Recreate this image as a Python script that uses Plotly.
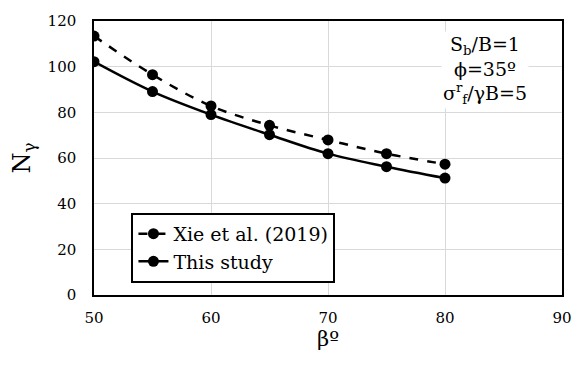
import plotly.graph_objects as go

beta = [50, 55, 60, 65, 70, 75, 80]
xie_2019 = [113.4, 96.5, 82.8, 74.3, 67.9, 61.9, 57.3]
this_study = [102.2, 89.1, 79.0, 70.2, 61.9, 56.2, 51.2]

font_family = "DejaVu Serif"

fig = go.Figure()
fig.add_trace(go.Scatter(
    x=beta, y=xie_2019, name="Xie et al. (2019)",
    mode="lines+markers", line=dict(color="black", width=2.5, dash="dash", shape="spline"),
    marker=dict(color="black", size=11),
))
fig.add_trace(go.Scatter(
    x=beta, y=this_study, name="This study",
    mode="lines+markers", line=dict(color="black", width=2.5, shape="spline"),
    marker=dict(color="black", size=11),
))

fig.update_layout(
    width=584, height=365,
    margin=dict(l=94, r=21, t=14, b=70),
    paper_bgcolor="white", plot_bgcolor="white",
    font=dict(family=font_family, color="black", size=16),
    showlegend=True,
    legend=dict(
        x=0.08, y=0.30, xanchor="left", yanchor="top",
        bgcolor="white", bordercolor="black", borderwidth=2,
        font=dict(size=19, family=font_family),
        itemwidth=30, tracegroupgap=0,
    ),
    xaxis=dict(
        range=[50, 90], dtick=10, showgrid=True, gridcolor="#d9d9d9",
        showline=True, linecolor="black", linewidth=1.5, mirror=True,
        ticks="", ticklabelstandoff=8, tickfont=dict(size=15, family=font_family), zeroline=False,
        title=dict(text="βº", font=dict(size=21, family=font_family), standoff=6),
    ),
    yaxis=dict(
        range=[0, 120], dtick=20, showgrid=True, gridcolor="#d9d9d9",
        showline=True, linecolor="black", linewidth=1.5, mirror=True,
        ticks="", ticklabelstandoff=13, tickfont=dict(size=15, family=font_family), zeroline=False,
        title=dict(text="N<sub>γ</sub>", font=dict(size=24, family=font_family), standoff=10),
    ),
)

fig.add_annotation(
    x=0.835, y=0.965, xref="paper", yref="paper", xanchor="center", yanchor="top",
    text="S<sub>b</sub>/B=1<br>ϕ=35º<br>σ<sup>r</sup><sub>f</sub>/γB=5",
    showarrow=False, align="center", bgcolor="white",
    font=dict(size=19, family=font_family),
)

fig.write_html("out.html")
